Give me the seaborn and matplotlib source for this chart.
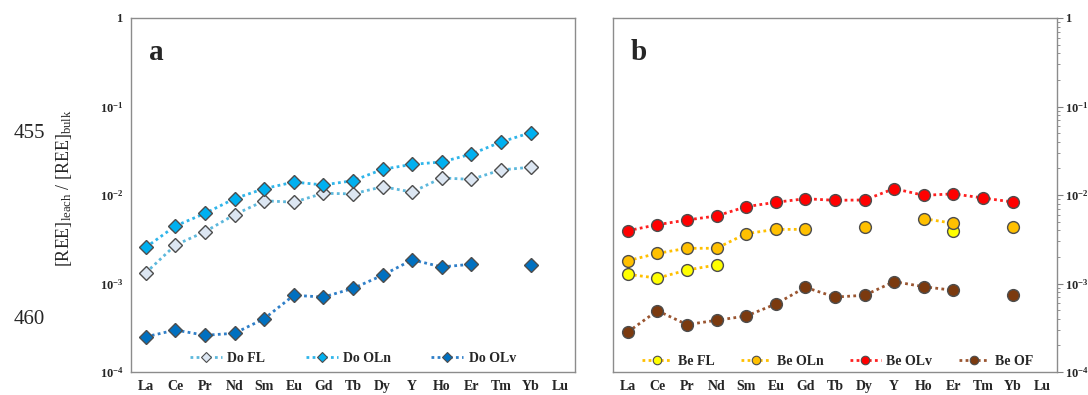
import matplotlib
matplotlib.use("Agg")
import matplotlib.pyplot as plt
from matplotlib.lines import Line2D
from matplotlib.ticker import FixedLocator, FuncFormatter, LogLocator, NullFormatter
import numpy as np
import pandas as pd
import seaborn as sns

nan = np.nan
ree = ["La", "Ce", "Pr", "Nd", "Sm", "Eu", "Gd", "Tb", "Dy", "Y", "Ho", "Er", "Tm", "Yb", "Lu"]

# panel a (Do samples)
do_fl = [1.32e-3, 2.72e-3, 3.85e-3, 6.0e-3, 8.6e-3, 8.3e-3, 1.045e-2, 1.03e-2, 1.24e-2, 1.08e-2,
         1.56e-2, 1.50e-2, 1.92e-2, 2.06e-2, nan]
do_oln = [2.56e-3, 4.47e-3, 6.2e-3, 9.1e-3, 1.18e-2, 1.40e-2, 1.30e-2, 1.45e-2, 1.95e-2, 2.22e-2,
          2.36e-2, 2.90e-2, 3.97e-2, 5.06e-2, nan]
do_olv = [2.50e-4, 2.98e-4, 2.60e-4, 2.74e-4, 4.0e-4, 7.36e-4, 7.03e-4, 8.8e-4, 1.24e-3, 1.85e-3,
          1.54e-3, 1.65e-3, nan, 1.62e-3, nan]

# panel b (Be samples)
be_fl = [1.27e-3, 1.15e-3, 1.42e-3, 1.62e-3, nan, nan, nan, nan, nan, nan,
         nan, 3.89e-3, nan, nan, nan]
be_oln = [1.81e-3, 2.19e-3, 2.50e-3, 2.50e-3, 3.66e-3, 4.09e-3, 4.09e-3, nan, 4.35e-3, nan,
          5.40e-3, 4.79e-3, nan, 4.35e-3, nan]
be_olv = [3.95e-3, 4.62e-3, 5.22e-3, 5.80e-3, 7.38e-3, 8.27e-3, 9.08e-3, 8.71e-3, 8.79e-3, 1.18e-2,
          9.91e-3, 1.03e-2, 9.25e-3, 8.34e-3, nan]
be_of = [2.83e-4, 4.93e-4, 3.43e-4, 3.84e-4, 4.29e-4, 5.86e-4, 9.05e-4, 7.03e-4, 7.36e-4, 1.05e-3,
         9.20e-4, 8.37e-4, nan, 7.41e-4, nan]

sns.set_style("white")
plt.rcParams["font.family"] = ["Liberation Serif", "DejaVu Serif"]
plt.rcParams["mathtext.fontset"] = "custom"
plt.rcParams["mathtext.rm"] = "Liberation Serif"
plt.rcParams["mathtext.bf"] = "Liberation Serif:bold"
plt.rcParams["mathtext.it"] = "Liberation Serif:italic"

DOTS = (0, (1, 1.2))


def segments(values):
    # split a series at gaps so the dotted line is broken there
    df = pd.DataFrame({"pos": np.arange(len(values)), "val": values})
    df["seg"] = df["val"].isna().cumsum()
    return df.dropna()


def draw(ax, values, face, line, marker, ms):
    df = segments(values)
    sns.lineplot(data=df, x="pos", y="val", units="seg", estimator=None, ax=ax,
                 color=line, linestyle=DOTS, linewidth=2.0, marker=marker,
                 markersize=ms, markerfacecolor=face, markeredgecolor="#4d4d4d",
                 markeredgewidth=1.0, legend=False)
    return Line2D([], [], color=line, linestyle=DOTS, linewidth=2.0, marker=marker,
                  markersize=ms * 0.72, markerfacecolor=face, markeredgecolor="#4d4d4d",
                  markeredgewidth=0.8)


def decorate(ax, right=False):
    ax.set_yscale("log")
    ax.set_ylim(1e-4, 1)
    ax.set_xlim(-0.5, len(ree) - 0.5)
    ax.set_xlabel("")
    ax.set_ylabel("")
    ax.xaxis.set_major_locator(FixedLocator(np.arange(len(ree))))
    ax.set_xticklabels(ree, fontweight="bold", fontsize=10)
    ax.xaxis.set_minor_locator(FixedLocator(np.arange(len(ree) + 1) - 0.5))
    ax.tick_params(axis="x", which="major", length=0, pad=6)
    ax.tick_params(axis="x", which="minor", length=4, width=0.8, color="#808080", direction="out")
    ax.yaxis.set_major_locator(LogLocator(base=10, numticks=10))
    ax.yaxis.set_minor_locator(LogLocator(base=10, subs=np.arange(2, 10), numticks=20))
    ax.yaxis.set_minor_formatter(NullFormatter())
    ax.yaxis.set_major_formatter(FuncFormatter(
        lambda v, p: r"$\mathbf{1}$" if abs(v - 1) < 1e-9 else r"$\mathbf{10^{%d}}$" % round(np.log10(v))))
    ax.tick_params(axis="y", which="major", length=4, width=0.8, color="#808080", labelsize=9,
                   direction="out", pad=1.5)
    ax.tick_params(axis="y", which="minor", length=2.5, width=0.6, color="#808080", direction="out")
    if right:
        ax.yaxis.tick_right()
    for s in ax.spines.values():
        s.set_color("#8c8c8c")
        s.set_linewidth(1.0)


fig = plt.figure(figsize=(10.88, 3.95), dpi=100)
W, H = 1088, 395
ax1 = fig.add_axes([131 / W, (H - 372) / H, 444 / W, 354 / H])
ax2 = fig.add_axes([613 / W, (H - 372) / H, 444 / W, 354 / H])

h1 = [draw(ax1, do_fl, "#dce6f2", "#5db8dc", "D", 7.5),
      draw(ax1, do_oln, "#00b0f0", "#2fb5ea", "D", 7.5),
      draw(ax1, do_olv, "#0070c0", "#2f7fc8", "D", 7.5)]
decorate(ax1)
ax1.legend(h1, ["Do FL", "Do OLn", "Do OLv"], loc="lower center", bbox_to_anchor=(0.5, -0.015),
           ncol=3, frameon=False, handlelength=2.3, columnspacing=2.9, handletextpad=0.4,
           prop={"weight": "bold", "size": 10})
ax1.text(0.04, 0.94, "a", transform=ax1.transAxes, fontsize=21, fontweight="bold", va="top")
ax1.set_ylabel(r"[REE]$_{\rm leach}$ / [REE]$_{\rm bulk}$", fontsize=13)
ax1.yaxis.set_label_coords(-0.128, 0.52)

h2 = [draw(ax2, be_fl, "#ffff00", "#ffc000", "o", 8.5),
      draw(ax2, be_oln, "#ffc000", "#ffc000", "o", 8.5),
      draw(ax2, be_olv, "#ff0000", "#ff2020", "o", 8.5),
      draw(ax2, be_of, "#7b3a0f", "#9a5530", "o", 8.5)]
decorate(ax2, right=True)
ax2.legend(h2, ["Be FL", "Be OLn", "Be OLv", "Be OF"], loc="lower center", bbox_to_anchor=(0.505, -0.025),
           ncol=4, frameon=False, handlelength=2.2, columnspacing=1.9, handletextpad=0.4,
           prop={"weight": "bold", "size": 10})
ax2.text(0.04, 0.94, "b", transform=ax2.transAxes, fontsize=21, fontweight="bold", va="top")

fig.text(29 / W, 1 - 133 / H, "455", fontsize=15, ha="center", va="center")
fig.text(29 / W, 1 - 320 / H, "460", fontsize=15, ha="center", va="center")

fig.savefig("out.png", dpi=100)
